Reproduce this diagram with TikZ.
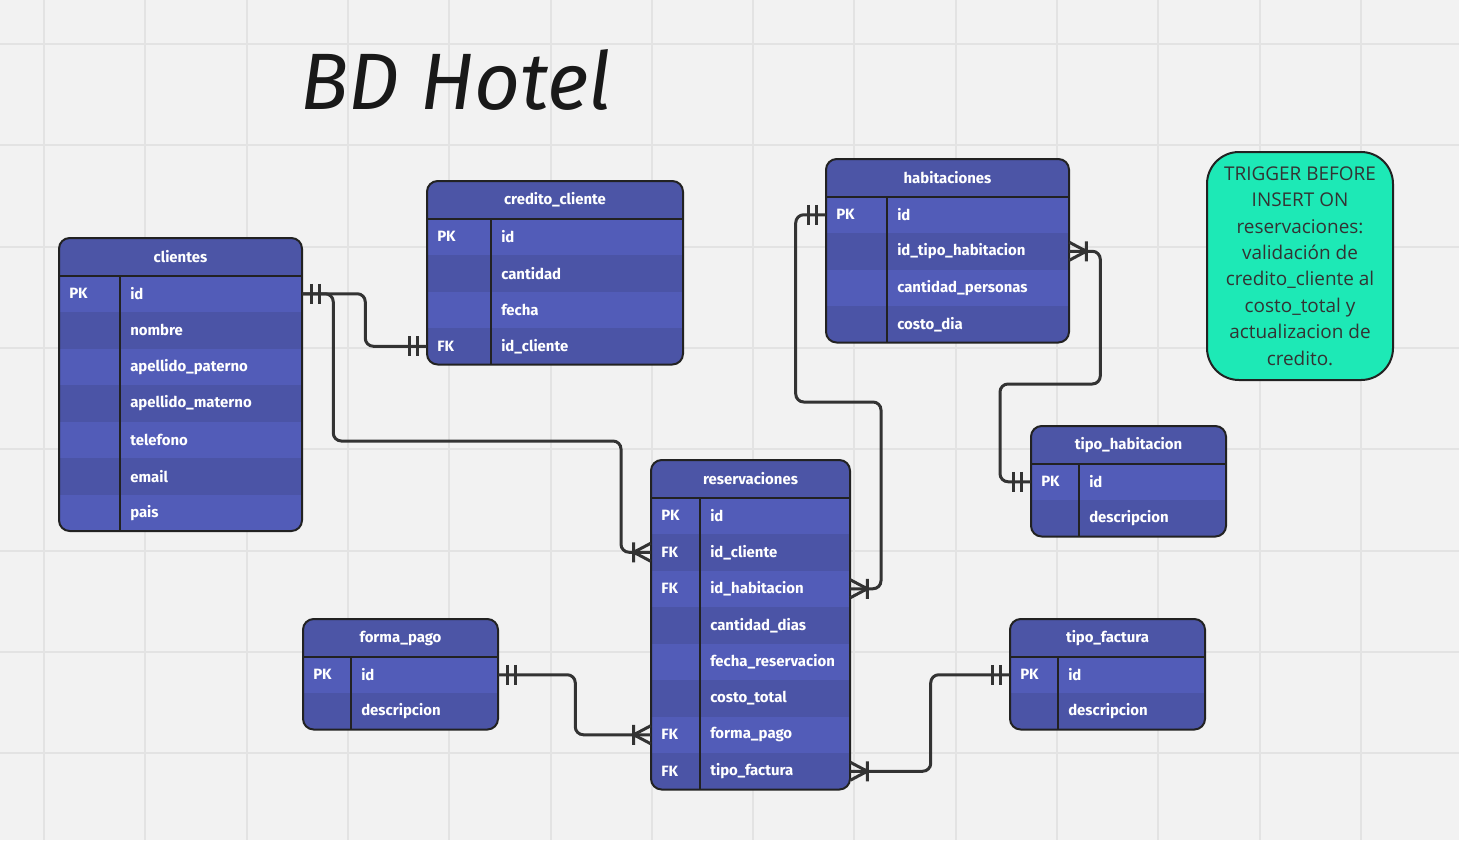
\documentclass[tikz,border=0pt]{standalone}
\usepackage{fontspec}
\newfontfamily\tabfont{Fira Sans}
\newfontfamily\notafont{Open Sans}

\definecolor{fondo}{HTML}{F2F2F2}
\definecolor{rejilla}{HTML}{E3E3E3}
\definecolor{cabezac}{HTML}{4C55A6}
\definecolor{filaA}{HTML}{525CB8}
\definecolor{filaB}{HTML}{4B54A6}
\definecolor{linea}{HTML}{333333}
\definecolor{bordec}{HTML}{222222}
\definecolor{notac}{HTML}{1DE9B6}

\tikzset{
  uno/.pic={\draw[draw=linea, line width=2.25pt] (9,-10) -- (9,10) (17,-10) -- (17,10);},
  muchos/.pic={\draw[draw=linea, line width=2.25pt] (0,-9) -- (17,0) -- (0,9) (17,-10) -- (17,10);}
}

% tabla: nombre, titulo, izquierda, derecha, division, arriba, filas
\newcommand{\entidad}[7]{%
  \foreach \k/\c [count=\n] in {#7} {\xdef\nfilas{\n}}
  \pgfmathsetmacro{\abajo}{#6+37.5+36.5*\nfilas}
  \pgfmathsetmacro{\ancho}{(#4-#3)*0.75}
  \begin{scope}
    \clip[rounded corners=8] (#3,#6) rectangle (#4,\abajo);
    \fill[cabezac] (#3,#6) rectangle (#4,#6+37.5);
    \foreach \k/\c [count=\i] in {#7} {
      \pgfmathsetmacro{\yy}{#6+37.5+36.5*(\i-0.5)}
      \ifodd\i\relax \def\fc{filaA}\else \def\fc{filaB}\fi
      \node[fila, fill=\fc, minimum width=\ancho pt] (#1-\i) at ({(#3+#4)/2},\yy) {};
      \node[texto] at (#3+10,\yy) {\k};
      \node[texto] at (#5+10,\yy) {\c};
    }
  \end{scope}
  \node[texto, anchor=center] (#1) at ({(#3+#4)/2},#6+19) {#2};
  \draw[borde] (#3,#6+37.5) -- (#4,#6+37.5) (#5,#6+37.5) -- (#5,\abajo);
  \draw[borde, rounded corners=8] (#3,#6) rectangle (#4,\abajo);
}

\begin{document}
\begin{tikzpicture}[x=0.75pt, y=-0.75pt]
  \tikzstyle{fila}=[rectangle, inner sep=0pt, minimum height=27.375pt]
  \tikzstyle{texto}=[anchor=west, inner sep=0pt, text=white, font=\tabfont\bfseries\fontsize{11.2}{13}\selectfont]
  \tikzstyle{borde}=[draw=bordec, line width=1.5pt]
  \tikzstyle{rel}=[draw=linea, line width=2.25pt, rounded corners=6]
  \tikzstyle{nota}=[draw=bordec, line width=1.5pt, fill=notac, rounded corners=24pt, minimum width=139.5pt, minimum height=171pt, align=center, text=linea, font=\notafont\fontsize{14.2}{19.8}\selectfont]
  \tikzstyle{titulo}=[text=black!90, font=\tabfont\itshape\fontsize{60}{60}\selectfont]

  \useasboundingbox (0,0) rectangle (1459,840);
  \fill[fondo] (0,0) rectangle (1459,840);
  \foreach \g in {0,...,13} \draw[rejilla, line width=1.5pt] ({44+101.3*\g},0) -- ++(0,840);
  \foreach \g in {0,...,7} \draw[rejilla, line width=1.5pt] (0,{44+101.3*\g}) -- ++(1459,0);

  \node[titulo] (tit) at (456,80) {BD Hotel};

  \entidad{cli}{clientes}{59}{302}{120}{238}{PK/id, /nombre, /apellido\_paterno, /apellido\_materno, /telefono, /email, /pais}
  \entidad{cre}{credito\_cliente}{427}{683}{491}{181}{PK/id, /cantidad, /fecha, FK/id\_cliente}
  \entidad{hab}{habitaciones}{826}{1069}{887}{159}{PK/id, /id\_tipo\_habitacion, /cantidad\_personas, /costo\_dia}
  \entidad{res}{reservaciones}{651}{850}{700}{460}{PK/id, FK/id\_cliente, FK/id\_habitacion, /cantidad\_dias, /fecha\_reservacion, /costo\_total, FK/forma\_pago, FK/tipo\_factura}
  \entidad{tha}{tipo\_habitacion}{1031}{1226}{1079}{426}{PK/id, /descripcion}
  \entidad{fpa}{forma\_pago}{303}{498}{351}{619}{PK/id, /descripcion}
  \entidad{tfa}{tipo\_factura}{1010}{1205}{1058}{619}{PK/id, /descripcion}

  \node[nota] (trig) at (1300,266) {TRIGGER BEFORE\\INSERT ON\\reservaciones:\\validación de\\credito\_cliente al\\costo\_total y\\actualizacion de\\credito.};

  % relaciones
  \draw[rel] (cli-1.east) -- ++(63,0) |- (cre-4.west);
  \draw[rel] (cli-1.east) -- ++(31,0) |- (621,441) |- (res-2.west);
  \draw[rel] (hab-1.west) -- ++(-30,0) |- (881,402) |- (res-3.east);
  \draw[rel] (hab-2.east) -- ++(31,0) |- (1000,384) |- (tha-1.west);
  \draw[rel] (fpa-1.east) -- ++(77,0) |- (res-7.west);
  \draw[rel] (tfa-1.west) -- ++(-79,0) |- (res-8.east);

  \pic at (cli-1.east) {uno};
  \pic[xscale=-1] at (cre-4.west) {uno};
  \pic[xscale=-1] at (res-2.west) {muchos};
  \pic[xscale=-1] at (hab-1.west) {uno};
  \pic at (res-3.east) {muchos};
  \pic at (hab-2.east) {muchos};
  \pic[xscale=-1] at (tha-1.west) {uno};
  \pic at (fpa-1.east) {uno};
  \pic[xscale=-1] at (res-7.west) {muchos};
  \pic[xscale=-1] at (tfa-1.west) {uno};
  \pic at (res-8.east) {muchos};
\end{tikzpicture}
\end{document}
